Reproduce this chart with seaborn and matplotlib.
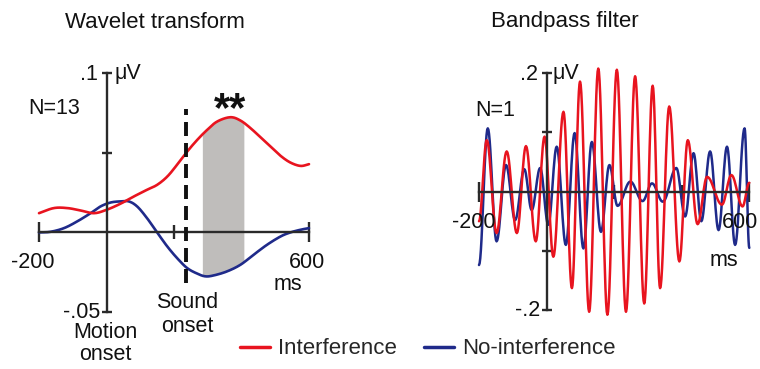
import numpy as np
import matplotlib
matplotlib.use("Agg")
import matplotlib.pyplot as plt
import seaborn as sns
from matplotlib.lines import Line2D

# ---------------- data ----------------
# Wavelet transform panel (ms, microvolts)
wav_red_t = [-200, -156, -116, -77, -37, 0, 41, 81, 120, 150, 180, 209, 239, 269, 298,
             328, 367, 397, 427, 456, 486, 516, 545, 575, 600]
wav_red_v = [0.0121, 0.0153, 0.0153, 0.0138, 0.0121, 0.0142, 0.0180, 0.0226, 0.0268, 0.0299,
             0.0351, 0.0425, 0.0508, 0.0582, 0.0644, 0.0697, 0.0724, 0.0703, 0.0655, 0.0598,
             0.0540, 0.0481, 0.0439, 0.0418, 0.0429]
wav_blue_t = [-200, -166, -126, -87, -47, -18, 12, 41, 66, 91, 120, 150, 180, 209, 239, 269,
              293, 318, 357, 397, 436, 476, 516, 545, 575, 600]
wav_blue_v = [0.0, 0.0004, 0.0027, 0.0069, 0.0121, 0.0163, 0.0188, 0.0195, 0.0195, 0.0163,
              0.0090, 0.0, -0.0088, -0.0161, -0.0224, -0.0259, -0.0276, -0.0270, -0.0245,
              -0.0203, -0.0140, -0.0077, -0.0025, 0.0, 0.0017, 0.0027]
sound_onset = 235
sig_window = [284, 407]

# Bandpass filter panel: successive peaks / troughs (ms, microvolts)
bp_red_t = [-200, -177, -148, -118, -88, -61, -32, -6, 20, 50, 75, 99, 126, 153, 180, 208,
            235, 262, 289, 314, 336, 363, 393, 418, 447, 475, 519, 547, 580, 600]
bp_red_v = [-0.05, 0.087, -0.070, 0.068, -0.070, 0.077, -0.084, 0.093, -0.110, 0.135, -0.163,
            0.186, -0.203, 0.208, -0.208, 0.206, -0.203, 0.195, -0.189, 0.179, -0.163, 0.144,
            -0.118, 0.087, -0.055, 0.025, -0.022, 0.028, -0.025, 0.015]
bp_blue_t = [-200, -174, -148, -120, -93, -66, -44, -19, 5, 30, 57, 83, 109, 134, 161, 186,
             210, 248, 284, 312, 344, 384, 410, 435, 458, 484, 509, 534, 558, 586, 600]
bp_blue_v = [-0.124, 0.107, -0.084, 0.045, -0.048, 0.038, -0.031, 0.040, -0.056, 0.076, -0.090,
             0.099, -0.096, 0.084, -0.068, 0.045, -0.024, 0.017, -0.016, 0.014, -0.017, 0.040,
             -0.042, 0.065, -0.050, 0.068, -0.065, 0.076, -0.090, 0.107, -0.095]

series_labels = ["Interference", "No-interference"]
RED = "#e8141f"
BLUE = "#1f2a8a"
GRAY = "#bfbdbb"
AX = "#2a2a2a"

# ---------------- helpers for drawing smooth curves ----------------
def catmull(xs, ys, n=16):
    xs = np.asarray(xs, float); ys = np.asarray(ys, float)
    px = np.concatenate([[2 * xs[0] - xs[1]], xs, [2 * xs[-1] - xs[-2]]])
    py = np.concatenate([[2 * ys[0] - ys[1]], ys, [2 * ys[-1] - ys[-2]]])
    ox, oy = [], []
    for i in range(1, len(px) - 2):
        s = np.linspace(0, 1, n, endpoint=(i == len(px) - 3))
        for arr, out in ((px, ox), (py, oy)):
            p0, p1, p2, p3 = arr[i - 1], arr[i], arr[i + 1], arr[i + 2]
            out.extend(0.5 * ((2 * p1) + (-p0 + p2) * s + (2 * p0 - 5 * p1 + 4 * p2 - p3) * s ** 2
                              + (-p0 + 3 * p1 - 3 * p2 + p3) * s ** 3))
    return np.array(ox), np.array(oy)


def wave(ts, vs, n=14):
    ox, oy = [], []
    for i in range(len(ts) - 1):
        s = np.linspace(0, 1, n, endpoint=(i == len(ts) - 2))
        ox.extend(ts[i] + (ts[i + 1] - ts[i]) * s)
        oy.extend(vs[i] + (vs[i + 1] - vs[i]) * (1 - np.cos(np.pi * s)) / 2)
    return np.array(ox), np.array(oy)


sns.set_style("white")
plt.rcParams["font.family"] = ["Liberation Sans", "DejaVu Sans"]
FS = 15.5

W, H = 760, 369
fig = plt.figure(figsize=(W / 100, H / 100), dpi=100)


def ftext(x, y, s, **kw):
    kw.setdefault("ha", "center")
    kw.setdefault("va", "center")
    kw.setdefault("fontsize", FS)
    kw.setdefault("color", "#111111")
    fig.text(x / W, 1 - y / H, s, **kw)


def style_axes(ax, xlim, ylim, yticks, long_x, short_x):
    ax.set_xlim(*xlim); ax.set_ylim(*ylim)
    for sp in ("top", "right"):
        ax.spines[sp].set_visible(False)
    ax.spines["left"].set_position(("data", 0))
    ax.spines["bottom"].set_position(("data", 0))
    for sp in ("left", "bottom"):
        ax.spines[sp].set_color(AX)
        ax.spines[sp].set_linewidth(1.7)
        ax.spines[sp].set_zorder(3)
    ax.set_xticks(long_x)
    ax.set_xticks(short_x, minor=True)
    ax.set_yticks(yticks)
    ax.set_xticklabels([]); ax.set_yticklabels([])
    ax.tick_params(axis="x", which="both", bottom=True, top=False)
    ax.tick_params(axis="y", which="both", left=True, right=False)
    ax.tick_params(axis="x", which="major", direction="inout", length=15, width=1.7, color=AX)
    ax.tick_params(axis="x", which="minor", direction="inout", length=10, width=1.7, color=AX)
    ax.tick_params(axis="y", which="major", direction="inout", length=7, width=1.7, color=AX)
    ax.patch.set_alpha(0)
    ax.set_xlabel(""); ax.set_ylabel("")


# ---------------- left panel: wavelet transform ----------------
ax1 = fig.add_axes([39 / W, (H - 312) / H, 270 / W, (312 - 73.3) / H])
rx, ry = catmull(wav_red_t, wav_red_v)
bx, by = catmull(wav_blue_t, wav_blue_v)
grid = np.linspace(sig_window[0], sig_window[1], 200)
ax1.fill_between(grid, np.interp(grid, bx, by), np.interp(grid, rx, ry),
                 color=GRAY, lw=0, zorder=1)
sns.lineplot(x=bx, y=by, ax=ax1, color=BLUE, lw=1.9, estimator=None, sort=False)
sns.lineplot(x=rx, y=ry, ax=ax1, color=RED, lw=1.9, estimator=None, sort=False)
for ln in ax1.lines:
    ln.set_clip_on(False)
ax1.plot([sound_onset, sound_onset], [-0.0316, 0.0776], color="#111111", lw=2.8,
         dashes=(3.6, 1.8), zorder=4, clip_on=False)
style_axes(ax1, (-200, 600), (-0.05, 0.1), [-0.05, 0.05, 0.1], [-200, 600], [200, 400])

# ---------------- right panel: bandpass filter ----------------
ax2 = fig.add_axes([479 / W, (H - 310) / H, 270.3 / W, (310 - 73.3) / H])
bx2, by2 = wave(bp_blue_t, bp_blue_v)
rx2, ry2 = wave(bp_red_t, bp_red_v)
sns.lineplot(x=bx2, y=by2, ax=ax2, color=BLUE, lw=1.8, estimator=None, sort=False)
sns.lineplot(x=rx2, y=ry2, ax=ax2, color=RED, lw=1.8, estimator=None, sort=False)
for ln in ax2.lines:
    ln.set_clip_on(False)
style_axes(ax2, (-200, 600), (-0.2, 0.2), [-0.2, -0.1, 0.1, 0.2], [-200, 600], [200, 400])

# ---------------- texts ----------------
ftext(155, 22, "Wavelet transform", fontsize=16)
ftext(565, 22, "Bandpass filter", fontsize=16)

ftext(28, 108, "N=13", ha="left")
ftext(98, 74, ".1", ha="right")
ftext(115, 74, "μV", ha="left")
ftext(100, 312, "-.05", ha="right")
ftext(33, 262, "-200")
ftext(307, 262, "600")
ftext(288, 285, "ms")
ftext(230, 121, "**", fontsize=30, fontweight="bold", va="baseline")
ftext(187, 303, "Sound")
ftext(187, 327, "onset")
ftext(105, 332, "Motion")
ftext(105, 355, "onset")

ftext(475, 110, "N=1", ha="left")
ftext(538, 74, ".2", ha="right")
ftext(553, 74, "μV", ha="left")
ftext(540, 311, "-.2", ha="right")
ftext(474, 222, "-200")
ftext(740, 222, "600")
ftext(724, 260, "ms")

handles = [Line2D([], [], color=RED, lw=2.5), Line2D([], [], color=BLUE, lw=2.5)]
fig.legend(handles, series_labels, loc="center left", bbox_to_anchor=(240 / W, 1 - 349 / H),
           ncol=2, frameon=False, fontsize=16, handlelength=1.35, handletextpad=0.35,
           columnspacing=1.25, borderpad=0, borderaxespad=0)

fig.savefig("out.png", dpi=100)
